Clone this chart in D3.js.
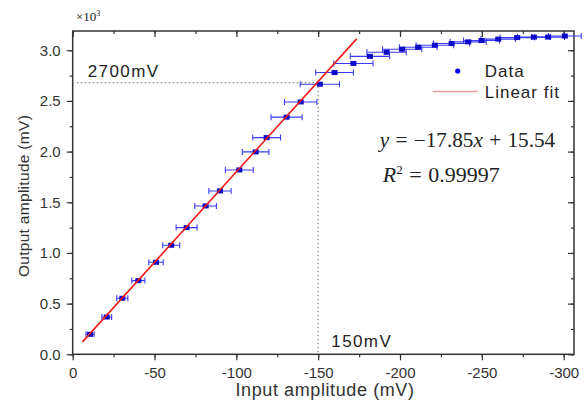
<!DOCTYPE html>
<html lang="en">
<head>
  <meta charset="UTF-8">
  <style>
body {
    margin: 0;
    background: #fff;
}
.tick text {
    font-family: Arial, "Liberation Sans", sans-serif;
    font-size: 15px;
    fill: #333;
}
.axis-title {
    font-family: Arial, "Liberation Sans", sans-serif;
    font-size: 18px;
    letter-spacing: 0.6px;
    fill: #333;
}
.note {
    font-family: Arial, "Liberation Sans", sans-serif;
    font-size: 17px;
    letter-spacing: 1.4px;
    fill: #222;
}
.eq {
    font-family: "Liberation Serif", "Times New Roman", serif;
    font-size: 20px;
    fill: #222;
}
  </style>
  <title>Output vs input amplitude</title>
</head>
<body>
<div id="wrapper"></div>

<script src="https://cdnjs.cloudflare.com/ajax/libs/d3/7.8.5/d3.min.js"></script>
<script>
// DATA (input mV, output x10^3 mV, horizontal error mV)
const inputAmp = [-10.6, -20.8, -30.3, -40.1, -50.9, -60.2, -69.6, -81.2, -90, -101.8,
  -111.8, -118.5, -130.7, -139.3, -151, -160, -171.5, -181.6, -191.8, -201.3,
  -211.1, -221.3, -231.5, -241.7, -249.8, -260, -271.6, -281.8, -290.5, -300.7]
const outputAmp = [0.197, 0.368, 0.553, 0.727, 0.908, 1.076, 1.25, 1.464, 1.612, 1.819,
  1.997, 2.138, 2.34, 2.49, 2.665, 2.78, 2.87, 2.94, 2.98, 3.01,
  3.03, 3.05, 3.066, 3.083, 3.096, 3.11, 3.125, 3.13, 3.13, 3.14]
const inputErr = [2.5, 3, 3.4, 4, 4.4, 5.2, 6.4, 6.6, 6.8, 8.5,
  8.1, 8.5, 9.5, 9.9, 12, 11.5, 12, 12, 12, 12,
  11.5, 11.5, 11, 11, 11, 10.5, 10.5, 10, 10, 10]
const fitRange = [-6, -173.5]
const slope = -17.85, intercept = 15.54
const xTicks = [0, -50, -100, -150, -200, -250, -300]
const yTicks = [0, 0.5, 1.0, 1.5, 2.0, 2.5, 3.0]
const markLevel = { x: -150, y: 2.68 }

async function drawChart() {
  const dimensions = {
    width: 584,
    height: 403,
    margin: { top: 31, right: 10, bottom: 48.7, left: 72.7 },
  }
  dimensions.boundedWidth = dimensions.width - dimensions.margin.left - dimensions.margin.right
  dimensions.boundedHeight = dimensions.height - dimensions.margin.top - dimensions.margin.bottom

  const xScale = d3.scaleLinear()
    .domain([0, -306.3])
    .range([0, dimensions.boundedWidth])
  const yScale = d3.scaleLinear()
    .domain([0, 3.19])
    .range([dimensions.boundedHeight, 0])

  const wrapper = d3.select("#wrapper")
    .append("svg")
    .attr("width", dimensions.width)
    .attr("height", dimensions.height)

  const bounds = wrapper.append("g")
    .attr("transform", `translate(${dimensions.margin.left},${dimensions.margin.top})`)

  // minor + major ticks
  const xMinor = d3.range(0, -306, -25)
  const yMinor = d3.range(0, 3.19, 0.25)
  const xFormat = d => d === 0 ? "0" : "-" + Math.abs(d)

  const axisColor = "#333"
  function styleAxis(g) {
    g.select(".domain").remove()
    g.selectAll(".tick line").attr("stroke", axisColor).attr("stroke-width", 1.2)
  }

  bounds.append("g")
    .attr("transform", `translate(0,${dimensions.boundedHeight})`)
    .call(d3.axisBottom(xScale).tickValues(xMinor).tickSize(3).tickFormat(""))
    .call(styleAxis)
  bounds.append("g")
    .attr("transform", `translate(0,${dimensions.boundedHeight})`)
    .call(d3.axisBottom(xScale).tickValues(xTicks).tickSize(6).tickPadding(7).tickFormat(xFormat))
    .call(styleAxis)
  bounds.append("g")
    .call(d3.axisBottom(xScale).tickValues(xMinor).tickSize(3).tickFormat(""))
    .call(styleAxis)
  bounds.append("g")
    .call(d3.axisBottom(xScale).tickValues(xTicks).tickSize(6).tickFormat(""))
    .call(styleAxis)

  bounds.append("g")
    .call(d3.axisLeft(yScale).tickValues(yMinor).tickSize(3).tickFormat(""))
    .call(styleAxis)
  bounds.append("g")
    .call(d3.axisLeft(yScale).tickValues(yTicks).tickSize(6).tickPadding(6).tickFormat(d3.format(".1f")))
    .call(styleAxis)
  bounds.append("g")
    .attr("transform", `translate(${dimensions.boundedWidth},0)`)
    .call(d3.axisLeft(yScale).tickValues(yMinor).tickSize(3).tickFormat(""))
    .call(styleAxis)
  bounds.append("g")
    .attr("transform", `translate(${dimensions.boundedWidth},0)`)
    .call(d3.axisLeft(yScale).tickValues(yTicks).tickSize(6).tickFormat(""))
    .call(styleAxis)

  // frame
  bounds.append("rect")
    .attr("width", dimensions.boundedWidth)
    .attr("height", dimensions.boundedHeight)
    .attr("fill", "none")
    .attr("stroke", axisColor)
    .attr("stroke-width", 1.5)

  // reference dotted lines
  bounds.append("line")
    .attr("x1", xScale(0)).attr("x2", xScale(markLevel.x))
    .attr("y1", yScale(markLevel.y)).attr("y2", yScale(markLevel.y))
    .attr("stroke", "#888").attr("stroke-width", 1.2)
    .attr("stroke-dasharray", "1.5,2.5")
  bounds.append("line")
    .attr("x1", xScale(markLevel.x)).attr("x2", xScale(markLevel.x))
    .attr("y1", yScale(markLevel.y)).attr("y2", yScale(0))
    .attr("stroke", "#888").attr("stroke-width", 1.2)
    .attr("stroke-dasharray", "1.5,2.5")

  const data = inputAmp.map((x, i) => ({ x, y: outputAmp[i], e: inputErr[i] }))

  // error bars
  const bars = bounds.append("g")
    .attr("stroke", "#3b3bf5")
    .attr("stroke-width", 1.1)
  bars.selectAll(".err")
    .data(data)
    .join("path")
      .attr("class", "err")
      .attr("fill", "none")
      .attr("d", d => {
        const x0 = xScale(d.x + d.e), x1 = xScale(d.x - d.e), y = yScale(d.y)
        return `M${x0},${y - 3}V${y + 3}M${x0},${y}H${x1}M${x1},${y - 3}V${y + 3}`
      })

  // markers
  bounds.selectAll(".pt")
    .data(data)
    .join("rect")
      .attr("class", "pt")
      .attr("x", d => xScale(d.x) - 3)
      .attr("y", d => yScale(d.y) - 2.5)
      .attr("width", 6)
      .attr("height", 5)
      .attr("fill", "#0a0ac8")

  // linear fit
  bounds.append("line")
    .attr("x1", xScale(fitRange[0]))
    .attr("y1", yScale((slope * fitRange[0] + intercept) / 1000))
    .attr("x2", xScale(fitRange[1]))
    .attr("y2", yScale((slope * fitRange[1] + intercept) / 1000))
    .attr("stroke", "#f01818")
    .attr("stroke-width", 1.6)

  // annotations
  bounds.append("text").attr("class", "note")
    .attr("x", xScale(-9.2)).attr("y", yScale(2.74))
    .text("2700mV")
  bounds.append("text").attr("class", "note")
    .attr("x", xScale(-158)).attr("y", yScale(0.075))
    .text("150mV")

  // legend
  const legend = bounds.append("g")
  legend.append("circle")
    .attr("cx", 385).attr("cy", 40).attr("r", 2.6)
    .attr("fill", "#0000ee")
  legend.append("text").attr("class", "note")
    .attr("x", 412).attr("y", 45.5).style("letter-spacing", "1px")
    .text("Data")
  legend.append("line")
    .attr("x1", 360).attr("x2", 405).attr("y1", 60.5).attr("y2", 60.5)
    .attr("stroke", "#f59a9a").attr("stroke-width", 1.6)
  legend.append("text").attr("class", "note")
    .attr("x", 412).attr("y", 67).style("letter-spacing", "1px")
    .text("Linear fit")

  // equation (stretched horizontally like the source figure)
  const eq = bounds.append("g")
    .attr("transform", "translate(307,115.5) scale(1.06,1)")
    .append("text").attr("class", "eq")
    .style("word-spacing", "1px")
  eq.append("tspan").style("font-style", "italic").text("y")
  eq.append("tspan").text(" = \u221217.85")
  eq.append("tspan").style("font-style", "italic").text("x")
  eq.append("tspan").text(" + 15.54")

  const r2 = bounds.append("g")
    .attr("transform", "translate(310,150.5) scale(1.1,1)")
    .append("text").attr("class", "eq")
    .style("word-spacing", "1px")
  r2.append("tspan").style("font-style", "italic").text("R")
  r2.append("tspan").attr("dy", -8).style("font-size", "12px").text("2")
  r2.append("tspan").attr("dy", 8).text(" = 0.99997")

  // multiplier
  const mult = wrapper.append("text").attr("class", "eq")
    .attr("x", 76).attr("y", 21).style("font-size", "13px")
  mult.append("tspan").text("\u00d710")
  mult.append("tspan").attr("dy", -5).style("font-size", "8px").text("3")

  // axis titles
  wrapper.append("text").attr("class", "axis-title")
    .attr("x", 325)
    .attr("y", 396)
    .attr("text-anchor", "middle")
    .text("Input amplitude (mV)")
  wrapper.append("text").attr("class", "axis-title")
    .attr("transform", "translate(29,196) rotate(-90)")
    .attr("text-anchor", "middle")
    .style("font-size", "15.5px")
    .style("letter-spacing", "0.3px")
    .text("Output amplitude (mV)")
}
drawChart()
</script>
</body>
</html>
